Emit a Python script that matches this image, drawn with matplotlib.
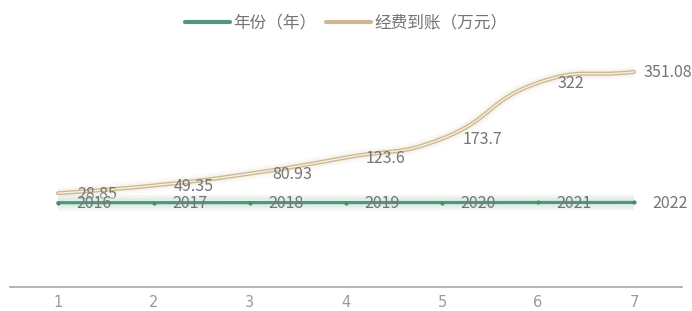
import numpy as np
import matplotlib
matplotlib.use("Agg")
import matplotlib.pyplot as plt
from matplotlib.path import Path
from matplotlib.patches import PathPatch
from matplotlib.lines import Line2D

plt.rcParams['font.family'] = ['Noto Sans CJK SC', 'DejaVu Sans']

# ---------------------------------------------------------
# data
# ---------------------------------------------------------
categories = ["1", "2", "3", "4", "5", "6", "7"]
years = [2016, 2017, 2018, 2019, 2020, 2021, 2022]
funding = [28.85, 49.35, 80.93, 123.6, 173.7, 322, 351.08]
year_label = "年份（年）"
funding_label = "经费到账（万元）"

GREEN = "#55967a"
GREEN_GLOW = "#cfe9dd"
TAN = "#cbb890"
TAN_LIGHT = "#f6f0e2"
TEXT = "#747474"
AXIS_TEXT = "#9a9a9a"


def smooth_path(ax, xs, ys, smooth=0.5):
    # echarts-style bezier smoothing, built in display space
    pts = ax.transData.transform(np.column_stack([xs, ys]))
    n = len(pts)
    verts = [pts[0]]
    codes = [Path.MOVETO]
    cp0 = pts[0]
    for i in range(1, n):
        p = pts[i]
        prev = pts[i - 1]
        nxt = pts[i + 1] if i < n - 1 else p
        v = nxt - prev
        l0 = np.hypot(*(p - prev))
        l1 = np.hypot(*(nxt - p))
        r = l1 / (l0 + l1) if (l0 + l1) > 0 else 0.5
        cp1 = p - v * smooth * (1 - r)
        verts += [cp0, cp1, p]
        codes += [Path.CURVE4] * 3
        cp0 = p + v * smooth * r
    verts = ax.transData.inverted().transform(np.array(verts))
    return Path(verts, codes)


fig = plt.figure(figsize=(6.92, 3.11), dpi=100)
ax = fig.add_axes([10 / 692, 24 / 311, 672 / 692, 237 / 311])
ax2 = ax.twinx()
ax2.set_position(ax.get_position())

x = np.arange(1, len(categories) + 1)
ax.set_xlim(0.5, len(categories) + 0.5)
ax.set_ylim(-220.4, 409.2)
ax2.set_ylim(0, 5668)

# year line (own axis)
yp = smooth_path(ax2, x, years)
for lw, a in [(11, 0.35), (7, 0.5)]:
    ax2.add_patch(PathPatch(yp, fill=False, edgecolor=GREEN_GLOW, lw=lw, alpha=a,
                            capstyle="butt"))
ax2.add_patch(PathPatch(yp, fill=False, edgecolor=GREEN, lw=2.3, capstyle="round"))
ax2.plot(x, years, ls="none", marker="o", ms=2, color="#4d8a6b")

# funding line
fp = smooth_path(ax, x, funding)
for lw, a in [(9, 0.06), (5.5, 0.12)]:
    ax.add_patch(PathPatch(fp, fill=False, edgecolor=TAN, lw=lw, alpha=a))
ax.add_patch(PathPatch(fp, fill=False, edgecolor=TAN, lw=2.9, capstyle="round"))
ax.add_patch(PathPatch(fp, fill=False, edgecolor=TAN_LIGHT, lw=1.0, capstyle="round"))

# labels
fund_dx = [19, 20, 22, 20, 21, 20, 10]
for xi, v, dx in zip(x, funding, fund_dx):
    ax.annotate(f"{v:g}", (xi, v), xytext=(dx, -1), textcoords="offset pixels",
                ha="left", va="center", fontsize=11.5, color=TEXT, fontweight="light")
for xi, v in zip(x, years):
    ax2.annotate(str(v), (xi, v), xytext=(18, -1), textcoords="offset pixels",
                 ha="left", va="center", fontsize=11.5, color=TEXT, fontweight="light")

# axes styling
for a in (ax, ax2):
    for s in a.spines.values():
        s.set_visible(False)
    a.set_yticks([])
ax.spines["bottom"].set_visible(True)
ax.spines["bottom"].set_color("#a8a8a8")
ax.spines["bottom"].set_linewidth(1.2)
ax.set_xticks(x)
ax.set_xticklabels(categories, family=["DejaVu Sans"])
ax.tick_params(axis="x", length=0, pad=6, labelsize=10.5, labelcolor=AXIS_TEXT)
ax2.tick_params(axis="x", length=0)

# legend
handles = [Line2D([], [], color=GREEN, lw=3, solid_capstyle="round"),
           Line2D([], [], color=TAN, lw=3, solid_capstyle="round")]
fig.legend(handles, [year_label, funding_label], loc="center",
           bbox_to_anchor=(0.5, 1 - 23 / 311), ncol=2, frameon=False,
           handlelength=2.7, handletextpad=0.2, columnspacing=0.55,
           fontsize=12, labelcolor=TEXT)

fig.savefig("out.png", dpi=100)
